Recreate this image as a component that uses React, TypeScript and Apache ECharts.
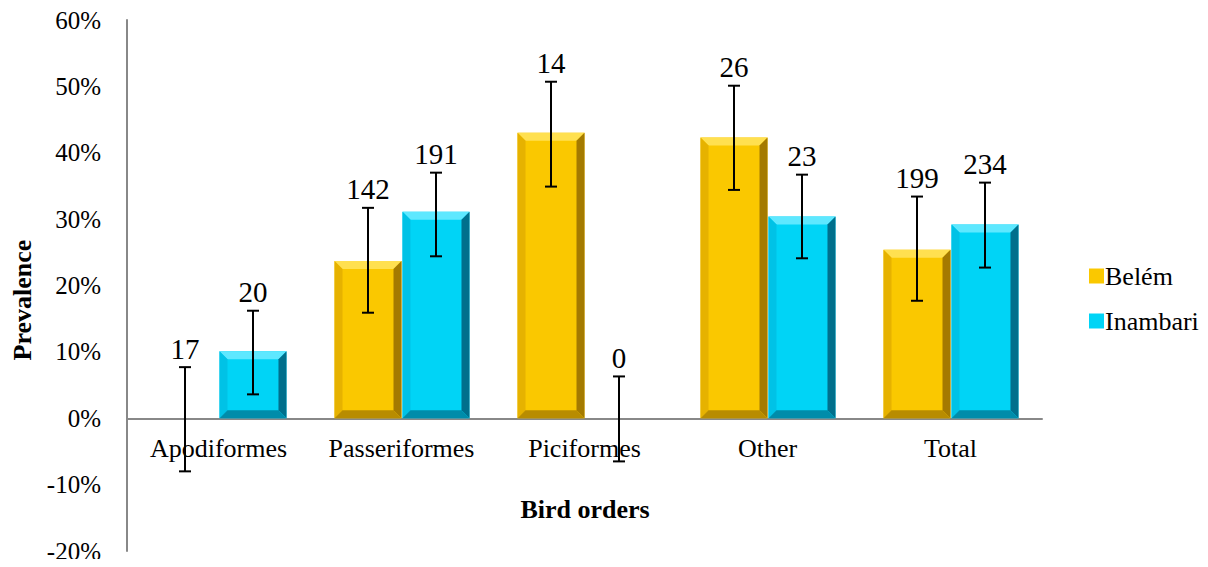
import React, { useEffect, useRef } from "react";
import * as echarts from "echarts";

const categories = ["Apodiformes", "Passeriformes", "Piciformes", "Other", "Total"];
const belem = [0, 23.7, 43.0, 42.3, 25.4];
const belemLow = [-8.0, 15.9, 34.9, 34.4, 17.7];
const belemHigh = [7.7, 31.7, 50.7, 50.1, 33.4];
const belemN = [17, 142, 14, 26, 199];
const inambari = [10.1, 31.1, 0, 30.4, 29.2];
const inambariLow = [3.6, 24.4, -6.5, 24.1, 22.7];
const inambariHigh = [16.2, 37.0, 6.3, 36.7, 35.5];
const inambariN = [20, 191, 0, 23, 234];

const FONT = "'Liberation Serif', 'Times New Roman', serif";

const palettes = [
  { main: "#FAC800", top: "#FFE050", left: "#E6B200", right: "#A47A00", bottom: "#B88C00" },
  { main: "#00D4F6", top: "#5EE8FF", left: "#00C2E6", right: "#006F8C", bottom: "#008CAA" },
];

function barRenderer(si: number) {
  return (params: any, api: any) => {
    const ci = api.value(0);
    const v = api.value(1);
    const base = api.coord([ci, 0]);
    const top = api.coord([ci, v]);
    const band = api.size([1, 0])[0];
    const w = band * 0.366;
    const x = si === 0 ? base[0] - w : base[0] + 1;
    const y0 = Math.min(top[1], base[1]);
    const h = Math.abs(base[1] - top[1]);
    if (h < 0.5) return { type: "group", children: [] };
    const p = palettes[si];
    const b = Math.min(8, h / 2, w / 2);
    const y1 = y0 + h;
    return {
      type: "group",
      children: [
        { type: "rect", shape: { x, y: y0, width: w, height: h }, style: { fill: p.main } },
        { type: "polygon", shape: { points: [[x, y0], [x + w, y0], [x + w - b, y0 + b], [x + b, y0 + b]] }, style: { fill: p.top } },
        { type: "polygon", shape: { points: [[x, y0], [x + b, y0 + b], [x + b, y1 - b], [x, y1]] }, style: { fill: p.left } },
        { type: "polygon", shape: { points: [[x + w, y0], [x + w, y1], [x + w - b, y1 - b], [x + w - b, y0 + b]] }, style: { fill: p.right } },
        { type: "polygon", shape: { points: [[x, y1], [x + w, y1], [x + w - b, y1 - b], [x + b, y1 - b]] }, style: { fill: p.bottom } },
      ],
    };
  };
}

function errRenderer(si: number) {
  return (params: any, api: any) => {
    const ci = api.value(0);
    const lo = api.coord([ci, api.value(1)]);
    const hi = api.coord([ci, api.value(2)]);
    const n = api.value(3);
    const band = api.size([1, 0])[0];
    const w = band * 0.366;
    const cx = si === 0 ? lo[0] - w / 2 : lo[0] + 1 + w / 2;
    const cap = 6;
    const ls = { stroke: "#000", lineWidth: 2 };
    return {
      type: "group",
      children: [
        { type: "line", shape: { x1: cx, y1: lo[1], x2: cx, y2: hi[1] }, style: ls },
        { type: "line", shape: { x1: cx - cap, y1: lo[1], x2: cx + cap, y2: lo[1] }, style: ls },
        { type: "line", shape: { x1: cx - cap, y1: hi[1], x2: cx + cap, y2: hi[1] }, style: ls },
        {
          type: "text",
          x: cx,
          y: hi[1] - 4,
          style: {
            text: String(n),
            fontFamily: FONT,
            fontSize: 29,
            fill: "#000",
            textAlign: "center",
            textVerticalAlign: "bottom",
          },
        },
      ],
    };
  };
}

function catLabelRenderer(params: any, api: any) {
  const ci = api.value(0);
  const p = api.coord([ci, 0]);
  return {
    type: "text",
    x: p[0],
    y: p[1] + 17,
    style: {
      text: categories[ci],
      fontFamily: FONT,
      fontSize: 26,
      fill: "#000",
      textAlign: "center",
      textVerticalAlign: "top",
    },
  };
}

export default function App() {
  const ref = useRef<HTMLDivElement>(null);
  useEffect(() => {
    if (!ref.current) return;
    const chart = echarts.init(ref.current, undefined, { renderer: "svg" });
    chart.setOption({
      animation: false,
      backgroundColor: "#fff",
      textStyle: { fontFamily: FONT },
      grid: { left: 127, right: 166, top: 20, bottom: 16, containLabel: false, outerBoundsMode: "none" },
      legend: {
        orient: "vertical",
        left: 1084,
        top: 258,
        itemWidth: 15,
        itemHeight: 15,
        itemGap: 19,
        textStyle: { fontFamily: FONT, fontSize: 26, color: "#000", padding: [0, 0, 0, -4] },
        data: [
          { name: "Belém", icon: "rect" },
          { name: "Inambari", icon: "rect" },
        ],
      },
      xAxis: {
        type: "category",
        data: categories,
        axisLine: { onZero: true, lineStyle: { color: "#888", width: 2 } },
        axisTick: { show: false },
        axisLabel: { show: false },
      },
      yAxis: {
        type: "value",
        min: -20,
        max: 60,
        interval: 10,
        splitLine: { show: false },
        axisLine: { show: true, lineStyle: { color: "#888", width: 2 } },
        axisTick: { show: false },
        axisLabel: { fontFamily: FONT, fontSize: 25, color: "#000", margin: 26, formatter: (v: number) => `${v}%` },
      },
      graphic: [
        {
          type: "text",
          x: 22,
          y: 300,
          rotation: Math.PI / 2,
          style: { text: "Prevalence", fontFamily: FONT, fontSize: 26, fontWeight: "bold", fill: "#000", textAlign: "center", textVerticalAlign: "middle" },
        },
        {
          type: "text",
          x: 585,
          y: 509,
          style: { text: "Bird orders", fontFamily: FONT, fontSize: 26, fontWeight: "bold", fill: "#000", textAlign: "center", textVerticalAlign: "middle" },
        },
      ],
      series: [
        {
          name: "Belém",
          type: "custom",
          itemStyle: { color: palettes[0].main },
          renderItem: barRenderer(0),
          data: belem.map((v, i) => [i, v]),
          z: 2,
        },
        {
          name: "Inambari",
          type: "custom",
          itemStyle: { color: palettes[1].main },
          renderItem: barRenderer(1),
          data: inambari.map((v, i) => [i, v]),
          z: 2,
        },
        {
          name: "Belém",
          type: "custom",
          itemStyle: { color: palettes[0].main },
          renderItem: errRenderer(0),
          data: belem.map((_, i) => [i, belemLow[i], belemHigh[i], belemN[i]]),
          z: 5,
        },
        {
          name: "Inambari",
          type: "custom",
          itemStyle: { color: palettes[1].main },
          renderItem: errRenderer(1),
          data: inambari.map((_, i) => [i, inambariLow[i], inambariHigh[i], inambariN[i]]),
          z: 5,
        },
        {
          name: "categoryLabels",
          type: "custom",
          renderItem: catLabelRenderer,
          data: categories.map((_, i) => [i]),
          z: 4,
          silent: true,
        },
      ],
    });
    return () => chart.dispose();
  }, []);
  return <div ref={ref} style={{ width: 1208, height: 567, margin: -8 }} />;
}
